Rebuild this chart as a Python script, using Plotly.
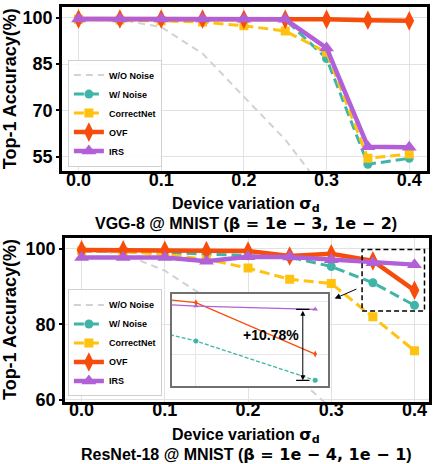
import plotly.graph_objects as go

# device variation sigma_d
sigma = [0.0, 0.05, 0.1, 0.15, 0.2, 0.25, 0.3, 0.35, 0.4]

# VGG-8 @ MNIST
vgg_wo_noise = [99.8, 99.4, 97.0, 88.4, 74.4, 60.5, 43.0, 30.0, 20.0]
vgg_w_noise = [99.5, 99.5, 99.5, 99.5, 99.5, 99.4, 86.8, 52.5, 54.4]
vgg_correctnet = [99.5, 99.3, 99.0, 98.6, 97.4, 95.7, 88.8, 54.4, 55.8]
vgg_ovf = [99.6, 99.6, 99.6, 99.6, 99.5, 99.5, 99.5, 99.2, 99.0]
vgg_irs = [99.6, 99.6, 99.6, 99.6, 99.5, 99.5, 90.2, 58.2, 58.0]

# ResNet-18 @ MNIST
res_wo_noise = [99.7, 98.7, 94.2, 87.0, 77.5, 67.8, 58.0, 48.0, 38.0]
res_w_noise = [99.4, 99.2, 99.0, 98.6, 98.2, 97.8, 95.3, 91.0, 85.02]
res_correctnet = [99.5, 99.3, 98.5, 97.2, 94.9, 91.9, 90.8, 82.0, 73.0]
res_ovf = [99.7, 99.7, 99.6, 99.5, 99.4, 98.1, 98.7, 96.8, 89.0]
res_irs = [97.7, 97.7, 97.7, 96.7, 97.9, 97.8, 97.1, 96.3, 95.8]

x_ticks = [0.0, 0.1, 0.2, 0.3, 0.4]
vgg_y_ticks = [55, 70, 85, 100]
res_y_ticks = [60, 80, 100]

FONT = "Liberation Sans, Arial, sans-serif"
MATH = "font-family:DejaVu Sans"
GRAY = "#d2d2d2"
TEAL = "#3fb5a8"
YELLOW = "#ffc20e"
ORANGE = "#f64d0c"
PURPLE = "#b160d8"

styles = [
    ("W/O Noise", dict(color=GRAY, width=2, dash="7px,5px"), None),
    ("W/ Noise", dict(color=TEAL, width=3, dash="10px,5px"), dict(symbol="circle", size=9)),
    ("CorrectNet", dict(color=YELLOW, width=3, dash="10px,5px"), dict(symbol="square", size=9)),
    ("OVF", dict(color=ORANGE, width=4.5), dict(symbol="diamond-tall", size=14)),
    ("IRS", dict(color=PURPLE, width=4.5), dict(symbol="triangle-up", size=13)),
]

fig = go.Figure()

groups = [
    ("x", "y", "legend", [vgg_wo_noise, vgg_w_noise, vgg_correctnet, vgg_ovf, vgg_irs]),
    ("x2", "y2", "legend2", [res_wo_noise, res_w_noise, res_correctnet, res_ovf, res_irs]),
]
for xa, ya, lg, series in groups:
    for (name, line, marker), vals in zip(styles, series):
        fig.add_trace(go.Scatter(
            x=sigma, y=vals, name=name, xaxis=xa, yaxis=ya, legend=lg,
            mode="lines+markers" if marker else "lines",
            line=line, marker=marker, cliponaxis=True,
        ))

# zoomed inset of the ResNet-18 tail
for (name, line, marker), vals in [(styles[3], res_ovf), (styles[4], res_irs), (styles[1], res_w_noise)]:
    thin = dict(color=line["color"], width=1.3)
    if "dash" in line:
        thin["dash"] = "4px,2px"
    fig.add_trace(go.Scatter(
        x=sigma[6:], y=vals[6:], xaxis="x3", yaxis="y3", showlegend=False,
        mode="lines+markers", line=thin,
        marker=dict(symbol=marker["symbol"], size=5, color=line["color"]),
    ))

axis_common = dict(
    showline=True, mirror=True, linecolor="black", linewidth=2.5,
    showgrid=True, gridcolor="#e2e2e2", gridwidth=1,
    ticks="outside", ticklen=3, tickwidth=1.5, tickcolor="black",
    tickfont=dict(family=FONT, size=18, color="black", weight="bold"),
    zeroline=False,
)
x_common = dict(axis_common, ticks="", tickvals=x_ticks, tickformat=".1f", ticklabelstandoff=-10)

legend_common = dict(
    x=0.016, xanchor="left", yanchor="bottom",
    bgcolor="rgba(255,255,255,0.9)", bordercolor="#d0d0d0", borderwidth=1,
    font=dict(family=FONT, size=9, color="black", weight="bold"),
    itemwidth=30, tracegroupgap=0,
)

fig.update_layout(
    width=436, height=464,
    margin=dict(l=62, r=4, t=5, b=62),
    paper_bgcolor="white", plot_bgcolor="white",
    font=dict(family=FONT, color="black"),
    xaxis=dict(x_common, domain=[0, 0.993], range=[-0.02, 0.422], anchor="y"),
    yaxis=dict(axis_common, domain=[0.584, 1.0], range=[50.2, 103.5], tickvals=vgg_y_ticks,
               anchor="x"),
    xaxis2=dict(x_common, domain=[0.008, 0.9986], range=[-0.02, 0.418], anchor="y2"),
    yaxis2=dict(axis_common, domain=[0.0, 0.4156], range=[59.4, 102.9], tickvals=res_y_ticks,
                anchor="x2"),
    xaxis3=dict(domain=[0.299, 0.7224], range=[0.34, 0.4053], anchor="y3",
                showline=True, mirror=True, linecolor="#707070", linewidth=1.5,
                showticklabels=False, ticks="", tickvals=[0.35],
                showgrid=True, gridcolor="#e6e6e6", zeroline=False),
    yaxis3=dict(domain=[0.0395, 0.273], range=[84.1, 98.1], anchor="x3",
                showline=True, mirror=True, linecolor="#707070", linewidth=1.5,
                showticklabels=False, ticks="", tickvals=[89, 97],
                showgrid=True, gridcolor="#e6e6e6", zeroline=False),
    legend=dict(legend_common, y=0.596),
    legend2=dict(legend_common, y=0.014),
)

title_font = dict(family=FONT, size=16, color="black", weight="bold")
xlabel = f"Device variation <span style='{MATH}'>σ<sub>d</sub></span>"
texts = [
    (xlabel, 0.499),
    (f"VGG-8 @ MNIST (<span style='{MATH}'>β = 1e − 3, 1e − 2</span>)", 0.4515),
    (xlabel, -0.0844),
    (f"ResNet-18 @ MNIST (<span style='{MATH}'>β = 1e − 4, 1e − 1</span>)", -0.133),
]
for txt, yy in texts:
    fig.add_annotation(text=txt, x=0.5, y=yy, xref="paper", yref="paper",
                       xanchor="center", yanchor="middle", showarrow=False, font=title_font)

for yy in [(402 - 87.5) / 397, (402 - 319.5) / 397]:
    fig.add_annotation(text="Top-1 Accuracy(%)", x=-0.141, y=yy, xref="paper", yref="paper",
                       textangle=-90, xanchor="center", yanchor="middle", showarrow=False,
                       font=dict(family=FONT, size=18, color="black", weight="bold"))

# dashed box around the zoomed region
fig.add_shape(type="rect", xref="x2", yref="y2", x0=0.337, x1=0.412, y0=83.5, y1=99.8,
              line=dict(color="black", width=1.5, dash="5px,3px"))
# arrow from the box to the inset
fig.add_annotation(xref="x2", yref="y2", axref="x2", ayref="y2",
                   x=0.304, y=86.8, ax=0.332, ay=89.5, text="", showarrow=True,
                   arrowhead=2, arrowsize=1.2, arrowwidth=1, arrowcolor="black")

# gap marker inside the inset
gap_x = 0.3948
fig.add_annotation(xref="x3", yref="y3", axref="x3", ayref="y3",
                   x=gap_x, y=res_w_noise[-1], ax=gap_x, ay=res_irs[-1], text="",
                   showarrow=True, arrowhead=2, startarrowhead=2, arrowside="end+start",
                   arrowsize=1, arrowwidth=1, arrowcolor="black")
for yy in [res_irs[-1], res_w_noise[-1]]:
    fig.add_shape(type="line", xref="x3", yref="y3", x0=gap_x - 0.0028, x1=gap_x + 0.0028,
                  y0=yy, y1=yy, line=dict(color="black", width=1.2))
fig.add_annotation(xref="x3", yref="y3", x=0.3815, y=91.85, text="+10.78%", showarrow=False,
                   font=dict(family=FONT, size=14, color="black", weight="bold"))

fig.write_html("out.html", config={"displayModeBar": False},
               post_script="document.body.style.margin='0';")
